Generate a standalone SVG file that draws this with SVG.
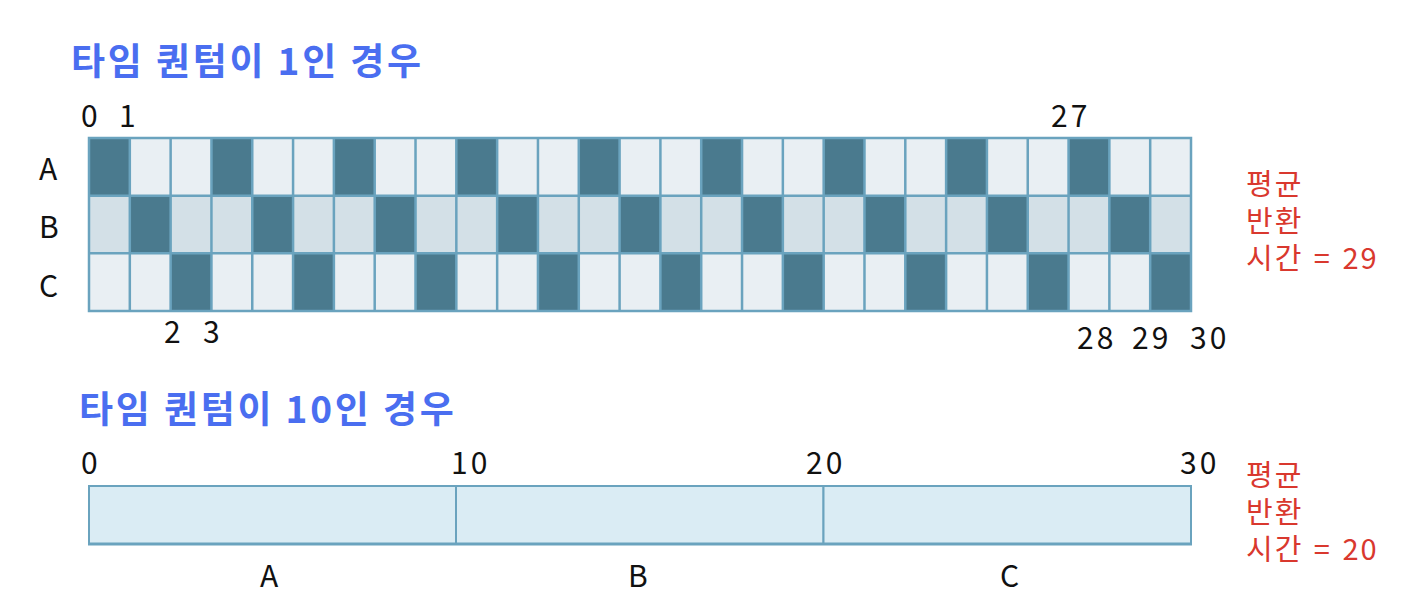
<svg xmlns="http://www.w3.org/2000/svg" width="1402" height="608" viewBox="0 0 1402 608">
<style>
text{font-family:"Noto Sans CJK KR","Noto Sans",sans-serif}
.title{font-size:37px;font-weight:bold;fill:#4a6ef0;letter-spacing:2.8px}
.num{font-size:30px;fill:#111;letter-spacing:3px}
.red{font-size:29px;fill:#d9382e;letter-spacing:2px;word-spacing:2px}
.dk{fill:#4a7a8e}
.la{fill:#e9eff3}
.lb{fill:#d3e0e7}
.grid{stroke:#6aa3be;stroke-width:2.5;fill:none}
.bar{fill:#daecf4;stroke:#6aa3be;stroke-width:2}
</style>
<rect width="1402" height="608" fill="#fff"/>
<text class="title" x="71" y="75">타임 퀀텀이 1인 경우</text>
<text class="title" x="79" y="423">타임 퀀텀이 10인 경우</text>

<g id="labels-top">
<text class="num" x="81" y="127">0</text>
<text class="num" x="119" y="127">1</text>
<text class="num" x="1051" y="127">27</text>
<text class="num" x="39" y="180">A</text>
<text class="num" x="39" y="238">B</text>
<text class="num" x="39" y="297">C</text>
<text class="num" x="164" y="343">2</text>
<text class="num" x="203" y="343">3</text>
<text class="num" x="1077" y="349">28</text>
<text class="num" x="1132" y="349">29</text>
<text class="num" x="1190" y="349">30</text>
</g>

<g id="row-A">
<rect class="la" x="89" y="138" width="1102" height="57.67"/>
<rect class="dk" x="89" y="138" width="40.81" height="57.67"/>
<rect class="dk" x="211.44" y="138" width="40.81" height="57.67"/>
<rect class="dk" x="333.89" y="138" width="40.81" height="57.67"/>
<rect class="dk" x="456.33" y="138" width="40.81" height="57.67"/>
<rect class="dk" x="578.78" y="138" width="40.81" height="57.67"/>
<rect class="dk" x="701.22" y="138" width="40.81" height="57.67"/>
<rect class="dk" x="823.67" y="138" width="40.81" height="57.67"/>
<rect class="dk" x="946.11" y="138" width="40.81" height="57.67"/>
<rect class="dk" x="1068.56" y="138" width="40.81" height="57.67"/>
</g>
<g id="row-B">
<rect class="lb" x="89" y="195.67" width="1102" height="57.67"/>
<rect class="dk" x="129.81" y="195.67" width="40.81" height="57.67"/>
<rect class="dk" x="252.26" y="195.67" width="40.81" height="57.67"/>
<rect class="dk" x="374.70" y="195.67" width="40.81" height="57.67"/>
<rect class="dk" x="497.15" y="195.67" width="40.81" height="57.67"/>
<rect class="dk" x="619.59" y="195.67" width="40.81" height="57.67"/>
<rect class="dk" x="742.04" y="195.67" width="40.81" height="57.67"/>
<rect class="dk" x="864.48" y="195.67" width="40.81" height="57.67"/>
<rect class="dk" x="986.93" y="195.67" width="40.81" height="57.67"/>
<rect class="dk" x="1109.37" y="195.67" width="40.81" height="57.67"/>
</g>
<g id="row-C">
<rect class="la" x="89" y="253.33" width="1102" height="57.67"/>
<rect class="dk" x="170.63" y="253.33" width="40.81" height="57.67"/>
<rect class="dk" x="293.07" y="253.33" width="40.81" height="57.67"/>
<rect class="dk" x="415.52" y="253.33" width="40.81" height="57.67"/>
<rect class="dk" x="537.96" y="253.33" width="40.81" height="57.67"/>
<rect class="dk" x="660.41" y="253.33" width="40.81" height="57.67"/>
<rect class="dk" x="782.85" y="253.33" width="40.81" height="57.67"/>
<rect class="dk" x="905.30" y="253.33" width="40.81" height="57.67"/>
<rect class="dk" x="1027.74" y="253.33" width="40.81" height="57.67"/>
<rect class="dk" x="1150.19" y="253.33" width="40.81" height="57.67"/>
</g>
<g id="grid-lines" class="grid">
<rect x="89" y="138" width="1102" height="173"/>
<path d="M89 195.67H1191M89 253.33H1191"/>
<path d="M129.81 138V311M170.63 138V311M211.44 138V311M252.26 138V311M293.07 138V311M333.89 138V311M374.70 138V311M415.52 138V311M456.33 138V311M497.15 138V311M537.96 138V311M578.78 138V311M619.59 138V311M660.41 138V311M701.22 138V311M742.04 138V311M782.85 138V311M823.67 138V311M864.48 138V311M905.30 138V311M946.11 138V311M986.93 138V311M1027.74 138V311M1068.56 138V311M1109.37 138V311M1150.19 138V311"/>
</g>

<g id="avg-1">
<text class="red"><tspan x="1246" y="195">평균</tspan><tspan x="1246" y="232">반환</tspan><tspan x="1246" y="269">시간 = 29</tspan></text>
</g>

<g id="labels-bottom">
<text class="num" x="81" y="474">0</text>
<text class="num" x="451" y="474">10</text>
<text class="num" x="806" y="474">20</text>
<text class="num" x="1180" y="474">30</text>
<text class="num" x="260" y="587">A</text>
<text class="num" x="628" y="587">B</text>
<text class="num" x="1000" y="587">C</text>
</g>
<g id="bar-A"><rect class="bar" x="89" y="486" width="367" height="58"/></g>
<g id="bar-B"><rect class="bar" x="456" y="486" width="367.5" height="58"/></g>
<g id="bar-C"><rect class="bar" x="823.5" y="486" width="367.5" height="58"/></g>
<line x1="88" y1="544" x2="1192" y2="544" stroke="#6aa3be" stroke-width="3"/>

<g id="avg-10">
<text class="red"><tspan x="1246" y="486">평균</tspan><tspan x="1246" y="523">반환</tspan><tspan x="1246" y="560">시간 = 20</tspan></text>
</g>
</svg>
